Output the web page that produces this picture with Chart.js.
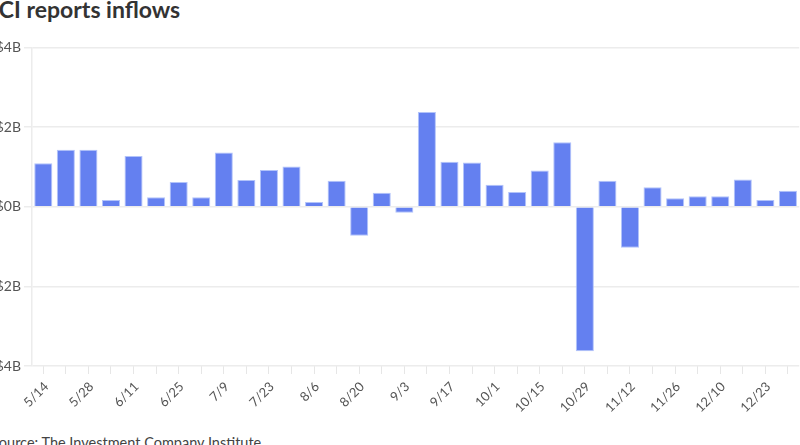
<!DOCTYPE html>
<html>
<head>
<meta charset="utf-8">
<script src="https://cdn.jsdelivr.net/npm/chart.js@4.4.1/dist/chart.umd.min.js"></script>
<style>
  html, body { margin: 0; padding: 0; background: #fff; overflow: hidden; width: 800px; height: 445px; }
  #wrap { position: absolute; left: -8px; top: 0; width: 812px; height: 445px; font-family: Lato, sans-serif; }
  #title { position: absolute; left: 0; top: -5px; font-size: 23px; font-weight: bold; color: #333; white-space: nowrap; }
  #source { position: absolute; left: -1px; top: 434px; font-size: 14.5px; color: #444; white-space: nowrap; }
  #box { position: absolute; left: 0; top: 36px; width: 812px; height: 394px; }
</style>
</head>
<body>
<div id="wrap">
  <div id="title">ICI reports inflows</div>
  <div id="box"><canvas id="my-chart"></canvas></div>
  <div id="source">Source: The Investment Company Institute</div>
</div>
<script>
const weeks = ['5/14','5/21','5/28','6/4','6/11','6/18','6/25','7/2','7/9','7/16','7/23','7/30',
  '8/6','8/13','8/20','8/27','9/3','9/10','9/17','9/24','10/1','10/8','10/15','10/22',
  '10/29','11/5','11/12','11/19','11/26','12/3','12/10','12/17','12/23','12/30'];
const inflows = [1.09, 1.43, 1.43, 0.17, 1.27, 0.24, 0.62, 0.24, 1.36, 0.67, 0.92, 1.01,
  0.12, 0.65, -0.73, 0.35, -0.15, 2.38, 1.13, 1.11, 0.55, 0.37, 0.91, 1.62,
  -3.63, 0.65, -1.03, 0.49, 0.21, 0.26, 0.26, 0.68, 0.17, 0.40];
const yTicks = [-4, -2, 0, 2, 4];

function printTheChart() {
  const ctx = document.getElementById('my-chart').getContext('2d');
  const chart = new Chart(ctx, {
    type: 'bar',
    data: {
      labels: weeks,
      datasets: [
        {
          label: 'Inflows',
          backgroundColor: 'rgb(100, 128, 240)',
          borderColor: 'rgba(170, 188, 250, 0.9)',
          borderWidth: 1,
          categoryPercentage: 0.8,
          barPercentage: 1,
          data: inflows
        }
      ]
    },
    options: {
      responsive: true,
      maintainAspectRatio: false,
      animation: false,
      layout: { padding: { top: 8, right: 2, left: 0, bottom: 0 } },
      plugins: { legend: { display: false }, tooltip: { enabled: false } },
      scales: {
        x: {
          offset: true,
          grid: { offset: false, drawOnChartArea: false, color: '#e6e6e6', tickLength: 8 },
          border: { display: false },
          ticks: {
            autoSkip: false,
            minRotation: 45,
            maxRotation: 45,
            padding: 5,
            labelOffset: 3,
            color: '#555',
            font: { family: 'Lato', size: 13 },
            callback: (v, i) => (i % 2 === 0 ? weeks[i] : '')
          },
          afterFit: s => { s.height = 64; }
        },
        y: {
          min: -4,
          max: 4,
          afterBuildTicks: s => { s.ticks = yTicks.map(v => ({ value: v })); },
          grid: { color: '#ececec', lineWidth: 1.5, tickLength: 8 },
          border: { color: '#ececec', width: 1.5 },
          ticks: {
            color: '#555',
            font: { family: 'Lato', size: 14 },
            padding: 3,
            callback: v => (v < 0 ? '-$' + Math.abs(v) + 'B' : '$' + v + 'B')
          },
          afterFit: s => { s.width = 40; }
        }
      }
    }
  }); // closes chart = new Chart()
} // closes printTheChart()

printTheChart();
</script>
</body>
</html>
